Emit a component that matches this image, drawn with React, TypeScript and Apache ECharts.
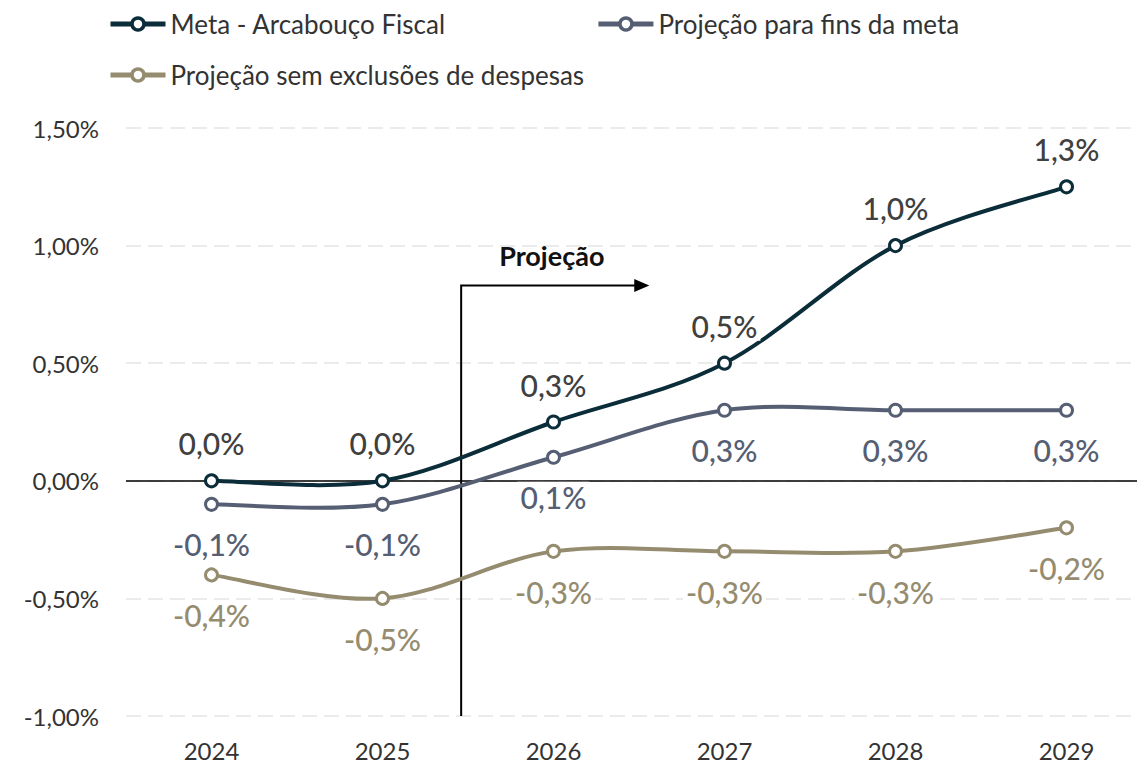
import React, { useEffect, useRef } from "react";
import * as echarts from "echarts";

const years = ["2024", "2025", "2026", "2027", "2028", "2029"];
const metaArcabouco = [0.0, 0.0, 0.25, 0.5, 1.0, 1.25];
const projecaoMeta = [-0.1, -0.1, 0.1, 0.3, 0.3, 0.3];
const projecaoSemExclusoes = [-0.4, -0.5, -0.3, -0.3, -0.3, -0.2];
const seriesNames = [
  "Meta - Arcabouço Fiscal",
  "Projeção para fins da meta",
  "Projeção sem exclusões de despesas",
];
const yMin = -1;
const yMax = 1.5;
const yInterval = 0.5;
const projectionLabel = "Projeção";
// projection marker: start position (category index) and arrow extent
const projectionStartIdx = 1.46;
const projectionEndIdx = 2.56;
const projectionTopValue = 0.83;
const projectionTextValue = 0.957;

const FONT = "Lato, 'Noto Sans', sans-serif";
const colors = ["#0b2d39", "#555e73", "#958c6f"];
const labelColors = ["#404040", "#555e73", "#958c6f"];

const fmt1 = (v: number) => v.toFixed(1).replace(".", ",") + "%";
const fmt2 = (v: number) => v.toFixed(2).replace(".", ",") + "%";

const allValues = [metaArcabouco, projecaoMeta, projecaoSemExclusoes];

export default function App() {
  const ref = useRef<HTMLDivElement>(null);
  useEffect(() => {
    if (!ref.current) return;
    const chart = echarts.init(ref.current, undefined, { renderer: "svg" });

    // smooth curve (Catmull-Rom style) drawn through the axis scales
    const mkCurve = (i: number) => {
      const vals = allValues[i];
      return {
        name: seriesNames[i] + " curve",
        type: "custom",
        silent: true,
        z: 2,
        data: vals.map((v, k) => [k, v]),
        renderItem: (params: any, api: any) => {
          const k = params.dataIndex;
          const n = vals.length;
          if (k >= n - 1) return null;
          const pt = (j: number) => {
            const jj = Math.max(0, Math.min(n - 1, j));
            return api.coord([jj, vals[jj]]);
          };
          const p0 = pt(k - 1);
          const p1 = pt(k);
          const p2 = pt(k + 1);
          const p3 = pt(k + 2);
          const t = 6;
          return {
            type: "bezierCurve",
            shape: {
              x1: p1[0],
              y1: p1[1],
              x2: p2[0],
              y2: p2[1],
              cpx1: p1[0] + (p2[0] - p0[0]) / t,
              cpy1: p1[1] + (p2[1] - p0[1]) / t,
              cpx2: p2[0] - (p3[0] - p1[0]) / t,
              cpy2: p2[1] - (p3[1] - p1[1]) / t,
            },
            style: { stroke: colors[i], lineWidth: 4, fill: null, lineCap: "round" },
          };
        },
      };
    };

    const mkSeries = (i: number, pos: string, dist: number) => ({
      name: seriesNames[i],
      type: "line",
      data: allValues[i],
      symbol: "circle",
      symbolSize: 12,
      z: 3,
      lineStyle: { color: colors[i], width: 4, opacity: 0 },
      itemStyle: { color: "#fff", borderColor: colors[i], borderWidth: 3 },
      label: {
        show: true,
        position: pos,
        distance: dist,
        formatter: (p: any) => fmt1(p.value),
        color: labelColors[i],
        fontSize: 30,
        fontWeight: 500,
        fontFamily: FONT,
        backgroundColor: "#fff",
        padding: [0, 3],
      },
      ...(i === 0
        ? {
            markLine: {
              silent: true,
              symbol: "none",
              label: { show: false },
              lineStyle: { color: "#000", type: "solid", width: 1.5, opacity: 1 },
              data: [{ yAxis: 0 }],
              z: 1,
            },
          }
        : {}),
    });

    const legendItem = (i: number) => ({
      name: seriesNames[i],
      lineStyle: { color: colors[i], width: 5, opacity: 1 },
      itemStyle: { color: "#fff", borderColor: colors[i], borderWidth: 3.5, opacity: 1 },
    });

    chart.setOption({
      animation: false,
      backgroundColor: "#fff",
      textStyle: { fontFamily: FONT },
      grid: {
        left: 126,
        width: 1026,
        top: 128,
        bottom: 50,
        containLabel: false,
        outerBoundsMode: "none",
      },
      legend: [
        {
          data: [legendItem(0), legendItem(1)],
          left: 108,
          top: 11,
          padding: 0,
          itemWidth: 55,
          itemHeight: 15,
          itemGap: 150,
          textStyle: { fontSize: 26, color: "#333", fontFamily: FONT },
        },
        {
          data: [legendItem(2)],
          left: 108,
          top: 62,
          padding: 0,
          itemWidth: 55,
          itemHeight: 15,
          textStyle: { fontSize: 26, color: "#333", fontFamily: FONT },
        },
      ],
      xAxis: {
        type: "category",
        data: years,
        boundaryGap: true,
        axisLine: { show: false },
        axisTick: { show: false },
        axisLabel: { fontSize: 24, color: "#333", margin: 22, fontFamily: FONT },
      },
      yAxis: {
        type: "value",
        min: yMin,
        max: yMax,
        interval: yInterval,
        axisLine: { show: false },
        axisTick: { show: false },
        axisLabel: {
          fontSize: 24,
          color: "#333",
          margin: 27,
          fontFamily: FONT,
          formatter: (v: number) => fmt2(v),
        },
        splitLine: {
          lineStyle: { color: "#ebebeb", width: 2, type: [15, 7] },
        },
      },
      series: [
        mkCurve(0),
        mkCurve(1),
        mkCurve(2),
        mkSeries(0, "top", 15),
        mkSeries(1, "bottom", 17),
        mkSeries(2, "bottom", 18),
      ],
    });

    const xAt = (idx: number) => {
      const lo = Math.floor(idx);
      const hi = Math.min(lo + 1, years.length - 1);
      const a = chart.convertToPixel({ xAxisIndex: 0 }, years[lo]) as number;
      const b = chart.convertToPixel({ xAxisIndex: 0 }, years[hi]) as number;
      return a + (idx - lo) * (b - a);
    };
    const yAt = (v: number) => chart.convertToPixel({ yAxisIndex: 0 }, v) as number;
    const xs = xAt(projectionStartIdx);
    const xe = xAt(projectionEndIdx);
    const yt = yAt(projectionTopValue);
    const yb = yAt(yMin);
    const xText = xAt((projectionStartIdx + projectionEndIdx) / 2 - 0.02);
    const yText = yAt(projectionTextValue);
    chart.setOption({
      graphic: [
        {
          type: "polyline",
          z: 1,
          shape: { points: [[xs, yb], [xs, yt], [xe - 14, yt]] },
          style: { stroke: "#000", lineWidth: 2, fill: null },
        },
        {
          type: "polygon",
          z: 1,
          shape: { points: [[xe - 15, yt - 6.5], [xe, yt], [xe - 15, yt + 6.5]] },
          style: { fill: "#000" },
        },
        {
          type: "text",
          z: 1,
          x: xText,
          y: yText,
          style: {
            text: projectionLabel,
            fontSize: 27,
            fontWeight: "bold",
            fontFamily: FONT,
            fill: "#111",
            align: "center",
            verticalAlign: "middle",
          },
        },
      ],
    });
    return () => chart.dispose();
  }, []);
  return (
    <div
      ref={ref}
      style={{ position: "fixed", left: 0, top: 0, width: 1137, height: 766 }}
    />
  );
}
